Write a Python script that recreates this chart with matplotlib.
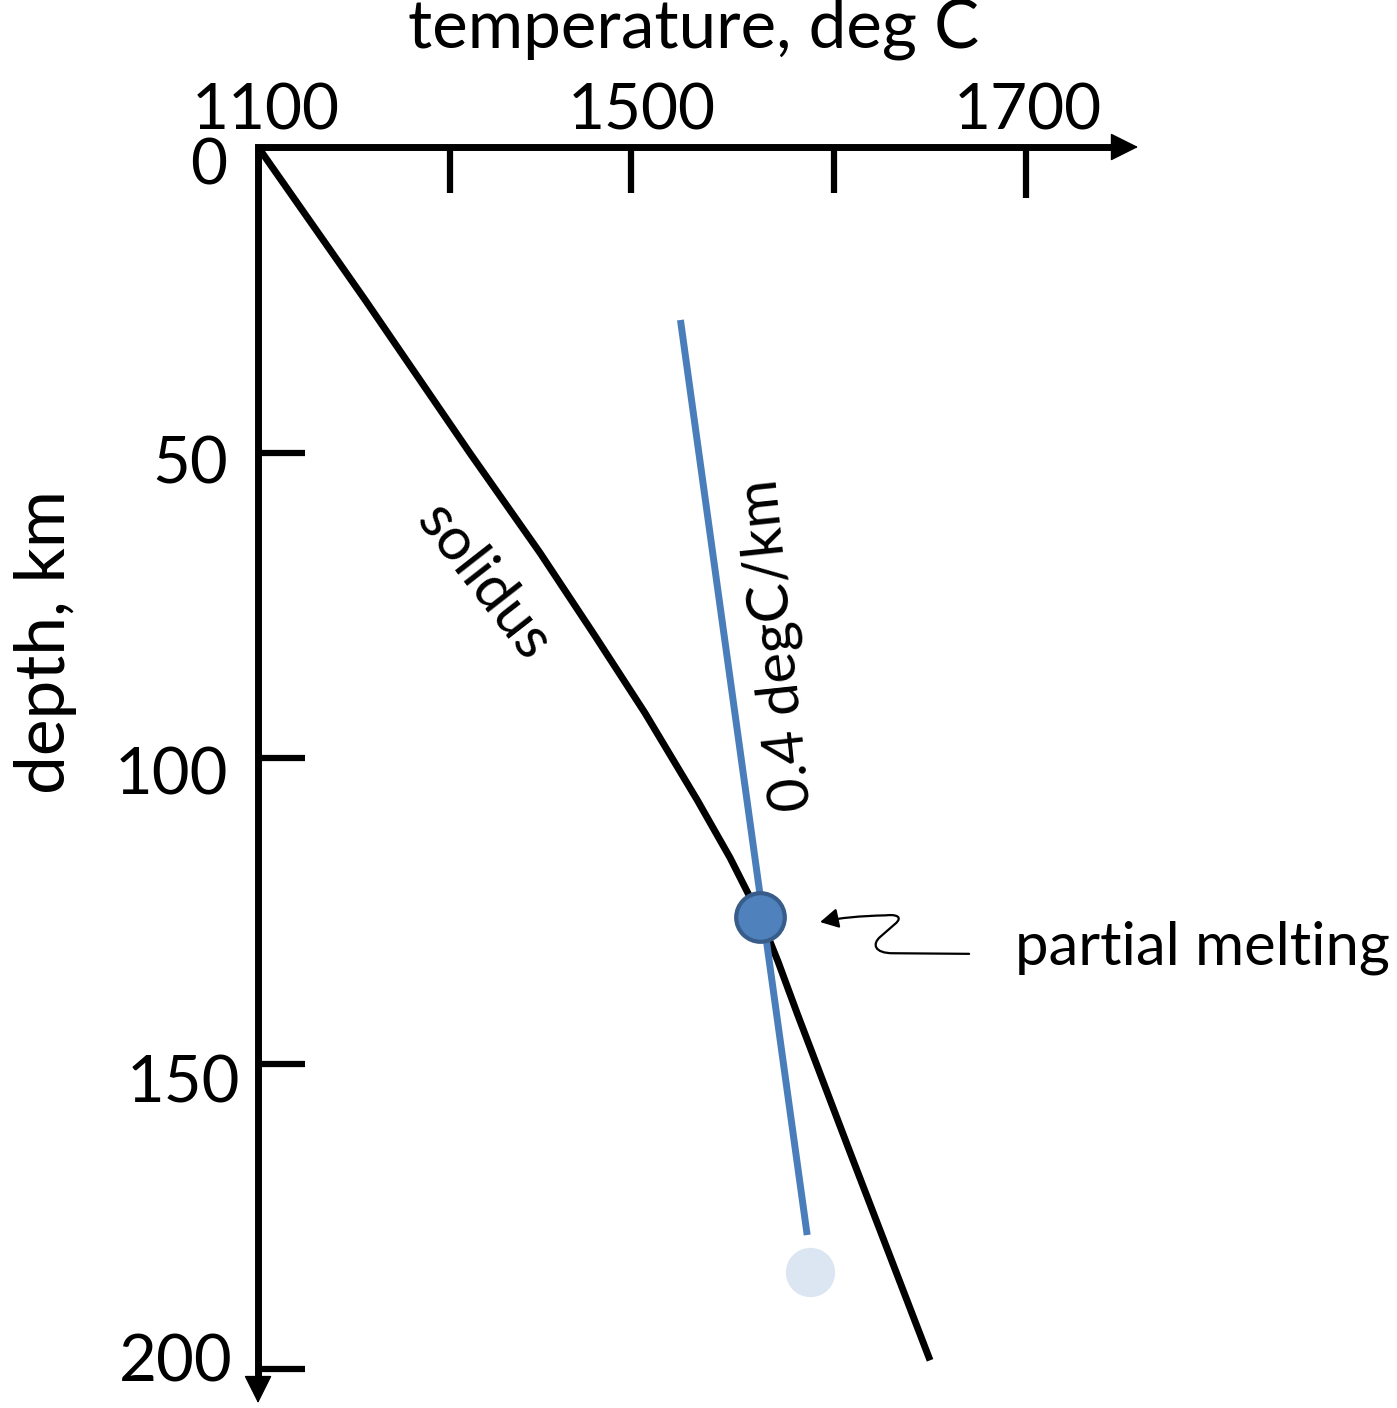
import matplotlib
matplotlib.use("Agg")
import matplotlib.pyplot as plt
from matplotlib.path import Path
from matplotlib.patches import FancyArrowPatch

plt.rcParams["font.family"] = ["Lato", "DejaVu Sans"]

# solidus curve (temperature degC, depth km)
solidus_T = [1100, 1183.6, 1265.6, 1320.3, 1363.3, 1402.3, 1443, 1468.8,
             1482.8, 1493.8, 1506.3, 1521.1, 1560.9, 1625]
solidus_d = [0, 25, 50.1, 66.4, 80, 92.6, 106.8, 116.3,
             122.1, 126.8, 133.3, 141.7, 163.6, 198.5]

# adiabat 0.4 degC/km
adiabat_T = [1430, 1529]
adiabat_d = [28.3, 178]

melt_T, melt_d = 1492, 126       # partial melting point
start_T, start_d = 1531, 184     # faded starting point

# axis ticks (schematic, label positions do not line up with ticks)
temp_ticks = [1250, 1391, 1550, 1700]
temp_label_pos = [1106, 1400, 1701]
temp_labels = ["1100", "1500", "1700"]
depth_ticks = [50, 100, 150, 200]
depth_labels = ["50", "100", "150", "200"]
depth_label_pos = [55.0, 106.0, 156.4, 201.9]
depth_label_x = [1076.6, 1076.6, 1085.9, 1080.5]

# squiggly pointer for the "partial melting" note
squig_verts = [(1655.5, 132.0), (1596.1, 131.9),
               (1581.3, 131.9), (1579.7, 130.4), (1585.9, 129.25),
               (1597.7, 127.1),
               (1603.9, 126.0), (1599.2, 125.5), (1590.6, 125.7),
               (1570.3, 125.8), (1554.7, 126.1), (1539.1, 126.8)]
squig_codes = [Path.MOVETO, Path.LINETO,
               Path.CURVE4, Path.CURVE4, Path.CURVE4,
               Path.LINETO,
               Path.CURVE4, Path.CURVE4, Path.CURVE4,
               Path.CURVE4, Path.CURVE4, Path.CURVE4]

blue = "#4A7EBB"

fig = plt.figure(figsize=(13.97, 14.08), dpi=100)
ax = fig.add_axes([0, 0, 1, 1])
ax.set_xlim(898.4, 1989.8)
ax.set_ylim(206.3, -24.05)
ax.axis("off")

# axes drawn by hand
x_end, y_end = 1787.5, 205.5
ax.plot([x_end - 18, 1100, 1100], [0, 0, y_end - 3.5], color="k", lw=5,
        solid_joinstyle="miter", solid_capstyle="butt")
head = dict(arrowstyle="-|>,head_length=0.9,head_width=0.45", mutation_scale=20,
            lw=1, fc="k", ec="k", shrinkA=0, shrinkB=0)
ax.annotate("", xy=(x_end, 0), xytext=(x_end - 30, 0), arrowprops=head)
ax.annotate("", xy=(1100, y_end), xytext=(1100, y_end - 6), arrowprops=head)

for t in temp_ticks:
    ax.plot([t, t], [0, 7.6 if t < 1700 else 8.3], color="k", lw=4.5, solid_capstyle="butt")
for d in depth_ticks:
    ax.plot([1100, 1137], [d, d], color="k", lw=4.5, solid_capstyle="butt")

for pos, lab in zip(temp_label_pos, temp_labels):
    ax.text(pos, -2.8, lab, fontsize=46, ha="center", va="baseline")
ax.text(1075.8, 6.2, "0", fontsize=46, ha="right", va="baseline")
for x, y, lab in zip(depth_label_x, depth_label_pos, depth_labels):
    ax.text(x, y, lab, fontsize=47, ha="right", va="baseline")

ax.text(1440, -16.2, "temperature, deg C", fontsize=48.5, ha="center", va="baseline")
ax.text(933.6, 81, "depth, km", fontsize=50, ha="center", va="center", rotation=90)

# curves
ax.plot(solidus_T, solidus_d, color="k", lw=5, solid_capstyle="butt",
        solid_joinstyle="round")
ax.plot(adiabat_T, adiabat_d, color=blue, lw=5, solid_capstyle="butt")
ax.plot(start_T, start_d, "o", ms=34.5, mfc="#DCE6F2", mec="#DCE6F2")
ax.plot(melt_T, melt_d, "o", ms=35, mfc="#4F81BD", mec="#385D8A", mew=3)

ax.text(1275.8, 71.2, "solidus", fontsize=43, ha="center", va="center",
        rotation=-52, rotation_mode="anchor")
ax.text(1505.5, 81.5, "0.4 degC/km", fontsize=42, ha="center", va="center",
        rotation=96, rotation_mode="anchor")
ax.text(1691.4, 133.8, "partial melting", fontsize=43, ha="left", va="baseline")

squig = FancyArrowPatch(path=Path(squig_verts, squig_codes),
                        arrowstyle="-|>,head_length=0.55,head_width=0.3",
                        mutation_scale=20, lw=1.6, color="k",
                        shrinkA=0, shrinkB=0)
ax.add_patch(squig)

fig.savefig("out.png", dpi=100)
